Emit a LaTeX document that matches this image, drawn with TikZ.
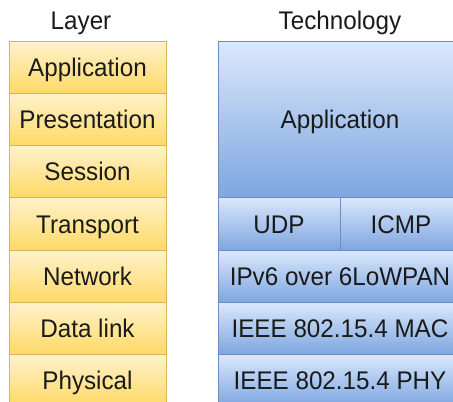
\documentclass[tikz,border=0pt]{standalone}
\usepackage{fontspec}
\setmainfont{Liberation Sans}[FakeStretch=0.95]
\begin{document}
\begin{tikzpicture}[x=1pt,y=-1pt]
\definecolor{ybord}{HTML}{D6B656}
\definecolor{ytop}{HTML}{FFF2CC}
\definecolor{ybot}{HTML}{FFD966}
\definecolor{bbord}{HTML}{6C8EBF}
\definecolor{btop}{HTML}{DAE8FC}
\definecolor{bbot}{HTML}{7EA6E0}
\definecolor{txt}{HTML}{1A1A1A}
\tikzset{
  box/.style={draw, line width=1pt, inner sep=0pt, outer sep=0pt, anchor=north west,
    font=\fontsize{25.5}{30}\selectfont, text=txt, text height=19pt, text depth=0pt},
  yel/.style={box, draw=ybord, top color=ytop, bottom color=ybot},
  blu/.style={box, draw=bbord, top color=btop, bottom color=bbot},
  hdr/.style={font=\fontsize{25.5}{30}\selectfont, text=txt, inner sep=0pt, text height=19pt, text depth=0pt}}
\useasboundingbox (0,0) rectangle (453,402);
\clip (0,0) rectangle (453,402);
\node[hdr] (hl) at (81,20) {Layer};
\node[hdr] (ht) at (340,20) {Technology};
\node[yel, minimum width=157pt, minimum height=52pt] (l1) at (9,41) {Application};
\node[yel, minimum width=157pt, minimum height=52pt] (l2) at (9,93) {Presentation};
\node[yel, minimum width=157pt, minimum height=52pt] (l3) at (9,145) {Session};
\node[yel, minimum width=157pt, minimum height=53pt] (l4) at (9,197) {Transport};
\node[yel, minimum width=157pt, minimum height=52pt] (l5) at (9,250) {Network};
\node[yel, minimum width=157pt, minimum height=52pt] (l6) at (9,302) {Data link};
\node[yel, minimum width=157pt, minimum height=52pt] (l7) at (9,354) {Physical};
\node[blu, minimum width=244pt, minimum height=156pt] (t1) at (218,41) {Application};
\node[blu, minimum width=122pt, minimum height=53pt] (t2) at (218,197) {UDP};
\node[blu, minimum width=122pt, minimum height=53pt] (t3) at (340,197) {ICMP};
\node[blu, minimum width=244pt, minimum height=52pt] (t4) at (218,250) {IPv6 over 6LoWPAN};
\node[blu, minimum width=244pt, minimum height=52pt] (t5) at (218,302) {IEEE 802.15.4 MAC};
\node[blu, minimum width=244pt, minimum height=52pt] (t6) at (218,354) {IEEE 802.15.4 PHY};
\end{tikzpicture}
\end{document}
